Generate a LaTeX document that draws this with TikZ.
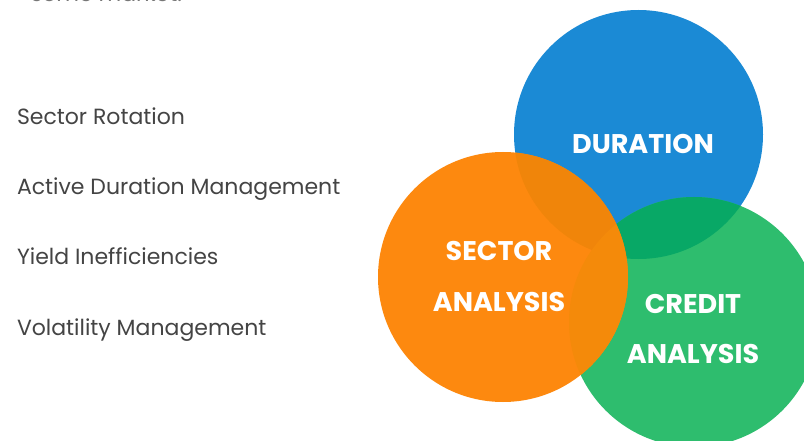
\documentclass[tikz,border=0pt]{standalone}
\usepackage{fontspec}
\setmainfont{Poppins}
\usepackage{tikz}

\definecolor{durblue}{HTML}{1B8AD5}
\definecolor{secorange}{HTML}{FD890F}
\definecolor{credgreen}{HTML}{2EBD6E}
\definecolor{bluegreen}{HTML}{08A866}
\definecolor{orangeblue}{HTML}{F0850A}
\definecolor{orangegreen}{HTML}{F48A0A}
\definecolor{listgray}{HTML}{444444}
\definecolor{topgray}{HTML}{777777}

\begin{document}
\begin{tikzpicture}[x=1pt,y=-1pt,
  every node/.append style={inner sep=0pt, outer sep=0pt},
  item/.style={anchor=base west, text=listgray, font=\fontsize{22}{26}\selectfont},
  label/.style={text=white, font=\fontsize{27}{30}\selectfont\bfseries, anchor=base}]
\useasboundingbox (0,0) rectangle (804,441);
\clip (0,0) rectangle (804,441);
\fill[white] (0,0) rectangle (804,441);

% centres of the three circles
\coordinate (dur) at (638.5,134.5);
\coordinate (sec) at (503,277);
\coordinate (cred) at (694,322);

\fill[durblue] (dur) circle (124.5);
\fill[credgreen] (cred) circle (125);
\fill[secorange] (sec) circle (125);

% overlaps
\begin{scope}
  \clip (dur) circle (124.5);
  \fill[bluegreen] (cred) circle (125);
  \fill[orangeblue] (sec) circle (125);
\end{scope}
\begin{scope}
  \clip (cred) circle (125);
  \fill[orangegreen] (sec) circle (125);
\end{scope}

% circle labels
\node[label] (durtxt) at (643,154) {DURATION};
\node[label] (sectxt) at (499,260) {SECTOR};
\node[label] (sectxtb) at (499,311) {ANALYSIS};
\node[label] (credtxt) at (693,313) {CREDIT};
\node[label] (credtxtb) at (693,363) {ANALYSIS};

% list on the left
\node[item, text=topgray, anchor=base east] (top) at (182,2) {some market.};
\node[item] (rot) at (17,125) {Sector Rotation};
\node[item] (act) at (17,195) {Active Duration Management};
\node[item] (yld) at (17,265) {Yield Inefficiencies};
\node[item] (vol) at (17,335) {Volatility Management};
\end{tikzpicture}
\end{document}
